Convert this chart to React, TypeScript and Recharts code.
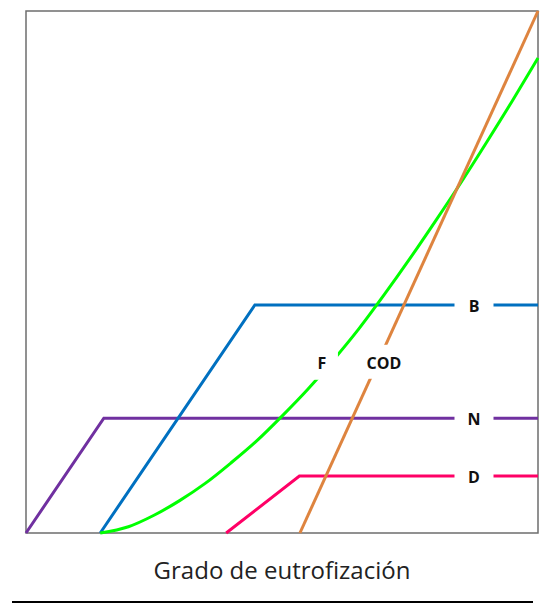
import { ComposedChart, Line, Scatter, XAxis, YAxis, ReferenceArea } from "recharts";

// conceptual chart: x = grado de eutrofización (0-100), y = relative level (0-100)
const nLine = [
  { x: 0, y: 0 },
  { x: 15.2, y: 22 },
  { x: 100, y: 22 },
];

const bLine = [
  { x: 14.5, y: 0 },
  { x: 44.7, y: 43.7 },
  { x: 100, y: 43.7 },
];

const dLine = [
  { x: 39.1, y: 0 },
  { x: 53.4, y: 10.9 },
  { x: 100, y: 10.9 },
];

const codLine = [
  { x: 53.5, y: 0 },
  { x: 100, y: 100 },
];

const fCurve = [
  { x: 14.5, y: 0 },
  { x: 20, y: 1.2 },
  { x: 25, y: 3.4 },
  { x: 30, y: 6.2 },
  { x: 35, y: 9.5 },
  { x: 40, y: 13.4 },
  { x: 45, y: 17.6 },
  { x: 50, y: 22.4 },
  { x: 55, y: 27.5 },
  { x: 60, y: 33.1 },
  { x: 65, y: 39.1 },
  { x: 70, y: 45.7 },
  { x: 75, y: 52.6 },
  { x: 80, y: 59.8 },
  { x: 85, y: 67.2 },
  { x: 90, y: 74.9 },
  { x: 95, y: 82.8 },
  { x: 100, y: 91.0 },
];

const tags = [
  { x: 87.5, y: 43.7, text: "B" },
  { x: 87.5, y: 22, text: "N" },
  { x: 87.5, y: 10.9, text: "D" },
  { x: 57.8, y: 32.8, text: "F" },
  { x: 69.9, y: 32.8, text: "COD" },
];

const gapSize: Record<string, [number, number]> = {
  B: [39, 24],
  N: [39, 24],
  D: [39, 24],
  F: [32, 36],
  COD: [46, 34],
};

function Tag(props: any) {
  const { cx, cy, payload } = props;
  const [w, h] = gapSize[payload.text] ?? [36, 24];
  return (
    <g>
      <rect x={cx - w / 2} y={cy - h / 2} width={w} height={h} fill="#fff" />
      <text
        x={cx}
        y={cy + 1}
        dy="0.36em"
        textAnchor="middle"
        fontFamily="Open Sans"
        fontWeight="bold"
        fontSize={16}
        fill="#111"
      >
        {payload.text}
      </text>
    </g>
  );
}

export default function App() {
  return (
    <div style={{ position: "absolute", left: 0, top: 0, width: 540, height: 607, background: "#fff" }}>
      <ComposedChart width={540} height={607} margin={{ top: 11, right: 2, bottom: 0, left: 26 }}>
        <XAxis
          type="number"
          dataKey="x"
          domain={[0, 100]}
          tick={false}
          tickLine={false}
          axisLine={false}
          height={74}
          label={{
            value: "Grado de eutrofización",
            position: "insideTop",
            offset: 29,
            fill: "#222",
            fontSize: 24,
            fontFamily: "Open Sans",
          }}
        />
        <YAxis type="number" dataKey="y" domain={[0, 100]} hide />
        <ReferenceArea x1={0} x2={100} y1={0} y2={100} fill="none" stroke="#6e6e6e" strokeWidth={1.5} />
        <Line data={nLine} dataKey="y" stroke="#7030A0" strokeWidth={3} dot={false} type="linear" isAnimationActive={false} />
        <Line data={bLine} dataKey="y" stroke="#0070C0" strokeWidth={3} dot={false} type="linear" isAnimationActive={false} />
        <Line data={dLine} dataKey="y" stroke="#FF0066" strokeWidth={3} dot={false} type="linear" isAnimationActive={false} />
        <Line data={fCurve} dataKey="y" stroke="#00FF00" strokeWidth={3} dot={false} type="monotone" isAnimationActive={false} />
        <Line data={codLine} dataKey="y" stroke="#DE843F" strokeWidth={3} dot={false} type="linear" isAnimationActive={false} />
        <Scatter data={tags} dataKey="y" shape={<Tag />} isAnimationActive={false} />
      </ComposedChart>
      <div style={{ position: "absolute", left: 12, top: 601, width: 521, height: 2, background: "#000" }} />
    </div>
  );
}
